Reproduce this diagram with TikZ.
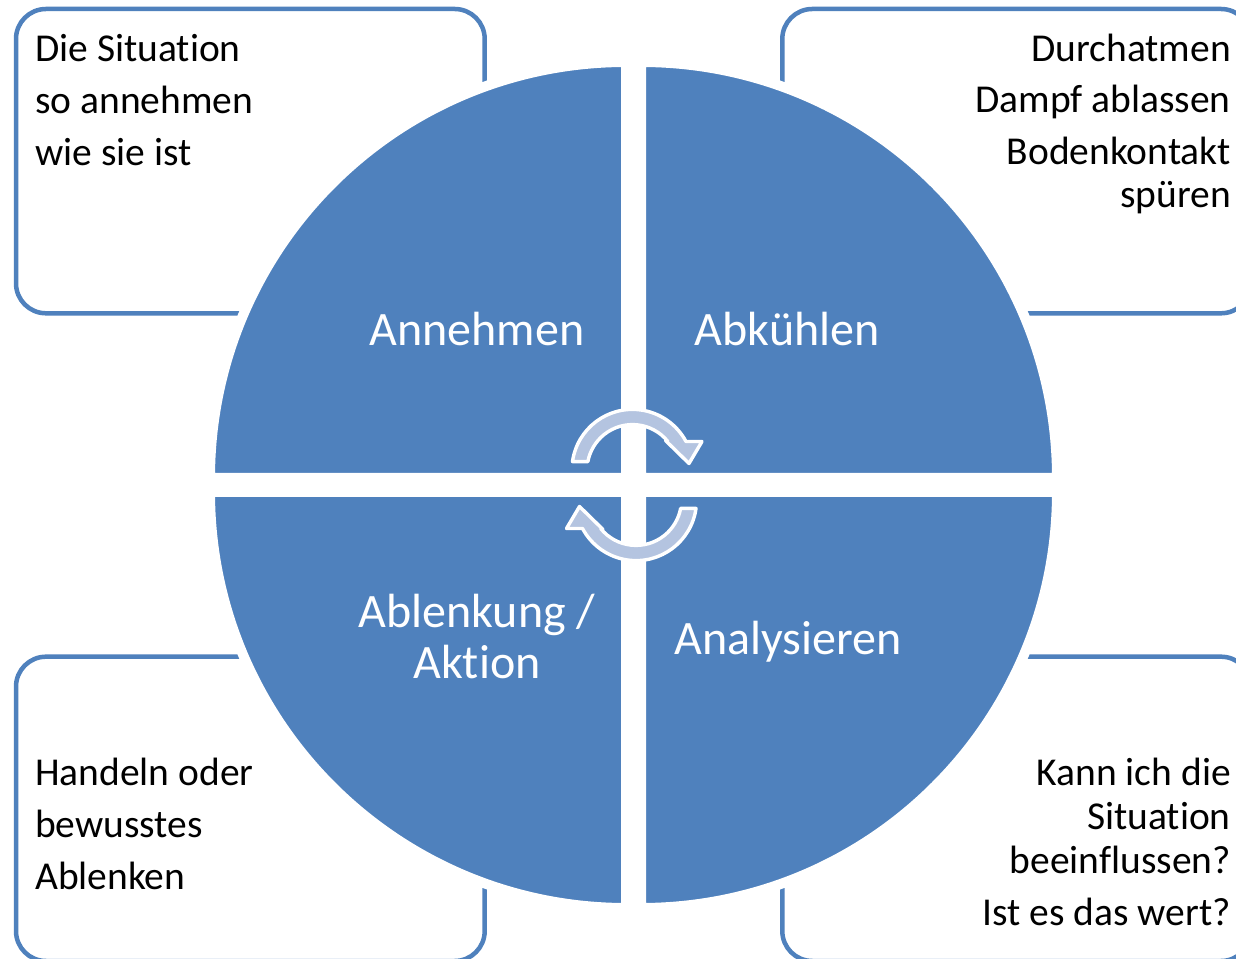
\documentclass[tikz,border=0pt]{standalone}
\usepackage{fontspec}
\setmainfont{Carlito}[Ligatures={NoCommon,NoContextual}, Contextuals=NoAlternate]
\definecolor{accent}{RGB}{79,129,189}
\definecolor{arrowfill}{RGB}{180,196,224}
\begin{document}
\begin{tikzpicture}[x=1pt,y=1pt,
  infobox/.style={draw=accent, line width=4.5pt, rounded corners=30pt},
  quadrant/.style={fill=accent, draw=white, line width=10pt, line join=miter},
  cyclearrow/.style={fill=arrowfill, draw=white, line width=3.4pt, line join=round},
  bodytext/.style={font=\fontsize{39.5}{44}\selectfont, inner sep=0pt, text=black},
  labeltext/.style={font=\fontsize{48}{51}\selectfont, inner sep=0pt, text=white},
]
\useasboundingbox (0,0) rectangle (1236,958);
\clip (0,0) rectangle (1236,958);
\fill[white] (0,0) rectangle (1236,958);

% corner text boxes (partly behind the circle)
\draw[infobox] (16,644.7) rectangle (484.7,949);
\draw[infobox] (782.3,644.7) rectangle (1251,949);
\draw[infobox] (16,-3) rectangle (484.7,301.3);
\draw[infobox] (782.3,-3) rectangle (1251,301.3);

% four quadrants of the circle
\path[quadrant] (626,480) -- ++(-416,0) arc[start angle=180, end angle=90, radius=416] -- cycle;
\path[quadrant] (641,480) -- ++(0,416) arc[start angle=90, end angle=0, radius=416] -- cycle;
\path[quadrant] (626,466) -- ++(0,-416) arc[start angle=270, end angle=180, radius=416] -- cycle;
\path[quadrant] (641,466) -- ++(416,0) arc[start angle=0, end angle=-90, radius=416] -- cycle;

% circular arrows in the middle
\begin{scope}[shift={(632.5,488)}]
  \path[cyclearrow] (172.03:60.6) arc[start angle=172.03, end angle=28.05, radius=60.6]
    -- (69.5,28.5) -- (56.5,6.5) -- (33,29.5)
    -- (38.9:45.4) arc[start angle=38.9, end angle=169.34, radius=45.4] -- cycle;
\end{scope}
\begin{scope}[shift={(636,458)}]
  \path[cyclearrow] (352.03:60.6) arc[start angle=352.03, end angle=208.05, radius=60.6]
    -- (-69.5,-28.5) -- (-56.5,-6.5) -- (-33,-29.5)
    -- (218.9:45.4) arc[start angle=218.9, end angle=349.34, radius=45.4] -- cycle;
\end{scope}

% quadrant labels
\node[labeltext, anchor=base] (annehmen) at (477,612) {Annehmen};
\node[labeltext, anchor=base] (abkuehlen) at (787,612) {Abkühlen};
\node[labeltext, anchor=base] (ablenkung) at (477,330) {Ablenkung /};
\node[labeltext, anchor=base] (aktion) at (477,279) {Aktion};
\node[labeltext, anchor=base] (analysieren) at (788,303) {Analysieren};

% top left box
\node[bodytext, anchor=base west] (tl1) at (35,896) {Die Situation};
\node[bodytext, anchor=base west] (tl2) at (35,844) {so annehmen};
\node[bodytext, anchor=base west] (tl3) at (35,792) {wie sie ist};

% top right box
\node[bodytext, anchor=base east] (tr1) at (1231,896) {Durchatmen};
\node[bodytext, anchor=base east] (tr2) at (1231,845) {Dampf ablassen};
\node[bodytext, anchor=base east] (tr3) at (1231,793) {Bodenkontakt};
\node[bodytext, anchor=base east] (tr4) at (1231,750) {spüren};

% bottom left box
\node[bodytext, anchor=base west] (bl1) at (35,172) {Handeln oder};
\node[bodytext, anchor=base west] (bl2) at (35,120) {bewusstes};
\node[bodytext, anchor=base west] (bl3) at (35,68) {Ablenken};

% bottom right box
\node[bodytext, anchor=base east] (br1) at (1231,172) {Kann ich die};
\node[bodytext, anchor=base east] (br2) at (1231,128) {Situation};
\node[bodytext, anchor=base east] (br3) at (1231,84) {beeinflussen?};
\node[bodytext, anchor=base east] (br4) at (1231,33) {Ist es das wert?};
\end{tikzpicture}
\end{document}
